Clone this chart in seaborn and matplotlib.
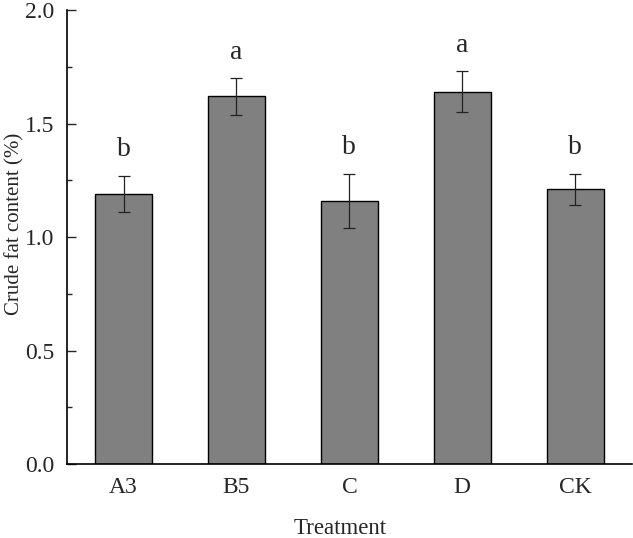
import matplotlib
matplotlib.use("Agg")
import matplotlib.pyplot as plt
import seaborn as sns
import pandas as pd
from matplotlib.ticker import MultipleLocator

treatments = ["A3", "B5", "C", "D", "CK"]
fat_content = [1.19, 1.62, 1.16, 1.64, 1.21]
fat_err = [0.08, 0.08, 0.12, 0.09, 0.07]
sig_letters = ["b", "a", "b", "a", "b"]

sns.set_style("ticks")
plt.rcParams["font.family"] = ["Liberation Serif", "DejaVu Serif"]

df = pd.DataFrame({"Treatment": treatments, "value": fat_content})

fig = plt.figure(figsize=(6.33, 5.38), dpi=100)
ax = fig.add_axes([0.106, 0.1375, 0.892, 0.8435])

sns.barplot(data=df, x="Treatment", y="value", color="#808080", saturation=1,
            edgecolor="black", linewidth=1.0, width=0.5, errorbar=None, ax=ax)
ax.errorbar(range(len(treatments)), fat_content, yerr=fat_err, fmt="none",
            ecolor="#222222", elinewidth=0.9, capsize=4, capthick=0.9)

for i, (v, e, l) in enumerate(zip(fat_content, fat_err, sig_letters)):
    ax.text(i, v + e + 0.06, l, ha="center", va="bottom", fontsize=20)

ax.set_xlim(-0.5, 4.5)
ax.set_ylim(0, 2.0)
ax.yaxis.set_major_locator(MultipleLocator(0.5))
ax.yaxis.set_minor_locator(MultipleLocator(0.25))
ax.set_yticks([0.0, 0.5, 1.0, 1.5, 2.0])
ax.set_yticklabels(["0.0", "0.5", "1.0", "1.5", "2.0"])
ax.tick_params(axis="y", which="major", direction="in", length=6.5, width=1, labelsize=17, pad=9)
ax.tick_params(axis="y", which="minor", direction="in", length=3.5, width=1)
ax.tick_params(axis="x", length=0, labelsize=17, pad=9)
ax.set_xlabel("Treatment", fontsize=16.5)
ax.set_ylabel("Crude fat content (%)", fontsize=15)
ax.xaxis.set_label_coords(0.483, -0.12)
ax.yaxis.set_label_coords(-0.075, 0.53)
for s in ["top", "right"]:
    ax.spines[s].set_visible(False)
for s in ["left", "bottom"]:
    ax.spines[s].set_linewidth(1.2)
    ax.spines[s].set_color("black")

fig.savefig("out.png", dpi=100)
